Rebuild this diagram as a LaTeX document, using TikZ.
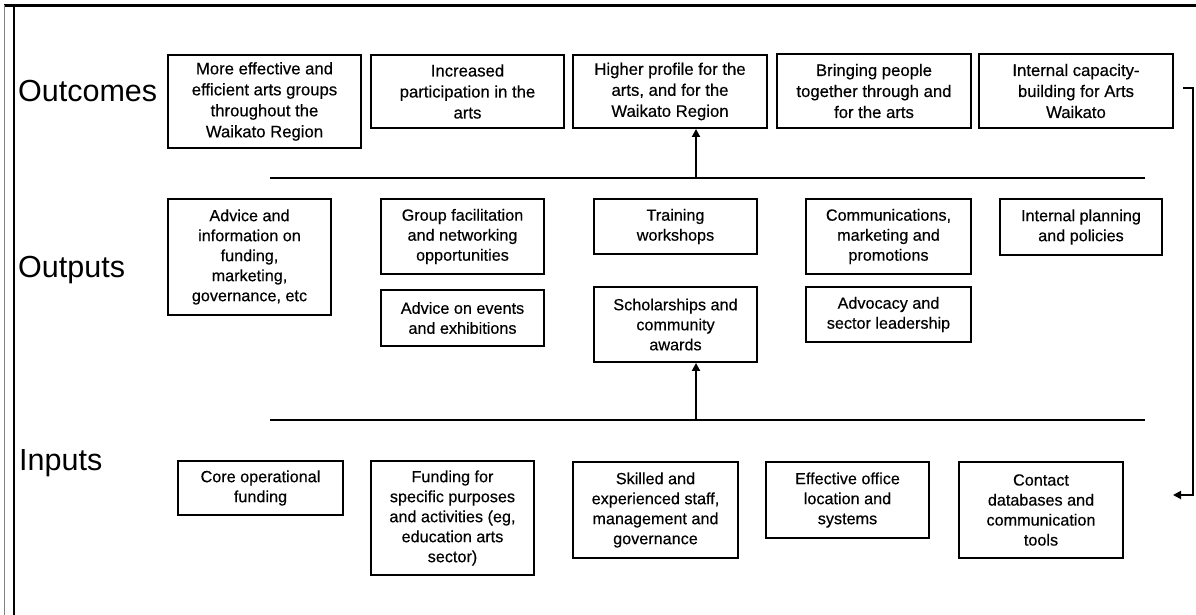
\documentclass[tikz,border=0pt]{standalone}
\usepackage{fontspec}
\setmainfont{Liberation Sans}
\newfontfamily\boxfont[FakeBold=0.4]{Liberation Sans}
\usetikzlibrary{arrows.meta}
\begin{document}
\begin{tikzpicture}[x=1pt,y=-1pt,
  box/.style={draw, line width=1.9pt, align=center, inner sep=0pt, font=\boxfont\fontsize{16.2}{20}\selectfont},
  obox/.style={box, font=\boxfont\fontsize{16.7}{21}\selectfont},
  lbl/.style={anchor=base west, inner sep=0pt, font=\fontsize{30.5}{33}\selectfont},
  rulel/.style={line width=1.9pt},
  arr/.style={line width=1.9pt, -{Triangle[length=8pt,width=8pt]}},
]
\useasboundingbox (0,0) rectangle (1196,615);
% frame
\draw[line width=3pt] (4,5.5) -- (1196,5.5);
\draw[gray, line width=1pt] (4.5,5) -- (4.5,615);
\draw[line width=2pt] (14,7) -- (14,615);
% row labels
\node[lbl] (lo) at (18,102) {Outcomes};
\node[lbl] (lp) at (18,277) {Outputs};
\node[lbl] (li) at (19,470) {Inputs};
% outcomes
\node[obox, minimum width=193pt, minimum height=93pt] (o1) at (264.5,101.5) {More effective and\\efficient arts groups\\throughout the\\Waikato Region};
\node[obox, minimum width=193pt, minimum height=73pt] (o2) at (467.5,91.5) {Increased\\participation in the\\arts};
\node[obox, minimum width=194pt, minimum height=73pt] (o3) at (670,91.5) {Higher profile for the\\arts, and for the\\Waikato Region};
\node[obox, minimum width=194pt, minimum height=74pt] (o4) at (874,91) {Bringing people\\together through and\\for the arts};
\node[obox, minimum width=194pt, minimum height=74pt] (o5) at (1076,91) {Internal capacity-\\building for Arts\\Waikato};
% outputs
\node[box, minimum width=163pt, minimum height=116pt] (pA) at (249.5,257) {Advice and\\information on\\funding,\\marketing,\\governance, etc};
\node[box, minimum width=163pt, minimum height=75pt] (pB) at (462.5,236.5) {Group facilitation\\and networking\\opportunities};
\node[box, minimum width=163pt, minimum height=56pt] (pC) at (462.5,318) {Advice on events\\and exhibitions};
\node[box, minimum width=163pt, minimum height=55pt] (pD) at (675.5,226.5) {Training\\workshops};
\node[box, minimum width=163pt, minimum height=75pt] (pE) at (675.5,324.5) {Scholarships and\\community\\awards};
\node[box, minimum width=165pt, minimum height=75pt] (pF) at (888.5,236.5) {Communications,\\marketing and\\promotions};
\node[box, minimum width=165pt, minimum height=55pt] (pG) at (888.5,314.5) {Advocacy and\\sector leadership};
\node[box, minimum width=162pt, minimum height=56pt] (pH) at (1081,227) {Internal planning\\and policies};
% inputs
\node[box, minimum width=165pt, minimum height=54pt] (i1) at (260.5,488) {Core operational\\funding};
\node[box, minimum width=163pt, minimum height=114pt] (i2) at (452.5,518) {Funding for\\specific purposes\\and activities (eg,\\education arts\\sector)};
\node[box, minimum width=165pt, minimum height=96pt] (i3) at (655.5,510) {Skilled and\\experienced staff,\\management and\\governance};
\node[box, minimum width=163pt, minimum height=76pt] (i4) at (847.5,500) {Effective office\\location and\\systems};
\node[box, minimum width=164pt, minimum height=96pt] (i5) at (1041,510) {Contact\\databases and\\communication\\tools};
% horizontal rules and arrows
\coordinate (l1a) at (270,178);
\coordinate (l1b) at (1145,178);
\coordinate (l1m) at (696,178);
\draw[rulel] (l1a) -- (l1b);
\draw[arr] (l1m) -- (l1m |- o3.south);
\coordinate (l2a) at (270,420);
\coordinate (l2b) at (1145,420);
\coordinate (l2m) at (696,420);
\draw[rulel] (l2a) -- (l2b);
\draw[arr] (l2m) -- (l2m |- pE.south);
% feedback loop
\coordinate (fa) at (1183,88);
\coordinate (fb) at (1193,88);
\coordinate (fc) at (1193,495);
\coordinate (fd) at (1173,495);
\draw[arr] (fa) -- (fb) -- (fc) -- (fd);
\end{tikzpicture}
\end{document}
